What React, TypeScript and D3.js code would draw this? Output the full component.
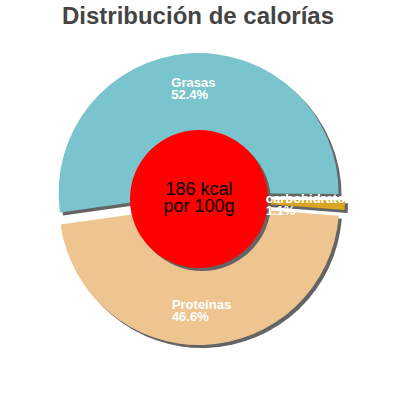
import * as d3 from "d3";

const WIDTH = 400;
const HEIGHT = 400;

const title = "Distribución de calorías";
const categories = ["Grasas", "carbohidratos", "Proteínas"];
const shares = [52.4, 1.1, 46.6];
const colors = ["#7AC5CD", "#DAA520", "#EEC591"];
const centerLines = ["186 kcal", "por 100g"];

const CX = 199;
const CY = 199;
const R = 140;
const EXPLODE = 6;
const HOLE = 69;
const SHADOW = "#646464";

type Slice = { label: string; value: number; color: string };
const slices: Slice[] = categories.map((label, i) => ({
  label,
  value: shares[i],
  color: colors[i],
}));

const start = (-98 * Math.PI) / 180;
const pie = d3
  .pie<Slice>()
  .sort(null)
  .value((d) => d.value)
  .startAngle(start)
  .endAngle(start + 2 * Math.PI);
const arcs = pie(slices);
const arc = d3.arc<d3.PieArcDatum<Slice>>().innerRadius(0).outerRadius(R);

const shift = (d: d3.PieArcDatum<Slice>) => {
  const a = (d.startAngle + d.endAngle) / 2;
  return [Math.sin(a) * EXPLODE, -Math.cos(a) * EXPLODE];
};

// rough text width for the left-aligned two-line labels
const measure = (s: string) => s.length * 6.8;

export default function App() {
  const font = "'Liberation Sans', Arial, sans-serif";
  return (
    <svg
      width={WIDTH}
      height={HEIGHT}
      style={{ position: "absolute", left: 0, top: 0, background: "#fff" }}
    >
      <text
        x={198}
        y={24}
        textAnchor="middle"
        fontFamily={font}
        fontWeight="bold"
        fontSize={24}
        fill="#444"
      >
        {title}
      </text>
      <g transform={`translate(${CX},${CY})`}>
        {arcs.map((d, i) => {
          const [dx, dy] = shift(d);
          return (
            <path
              key={"s" + i}
              d={arc(d) ?? ""}
              transform={`translate(${dx + 3},${dy + 3})`}
              fill={SHADOW}
            />
          );
        })}
        {arcs.map((d, i) => {
          const [dx, dy] = shift(d);
          return (
            <path
              key={"p" + i}
              d={arc(d) ?? ""}
              transform={`translate(${dx},${dy})`}
              fill={d.data.color}
            />
          );
        })}
        <circle cx={3} cy={3} r={HOLE} fill={SHADOW} />
        <circle cx={0} cy={0} r={HOLE} fill="#ff0000" />
        <text textAnchor="middle" fontFamily={font} fontSize={18} fill="#000">
          <tspan x={0} y={-4}>
            {centerLines[0]}
          </tspan>
          <tspan x={0} y={13}>
            {centerLines[1]}
          </tspan>
        </text>
        {arcs.map((d, i) => {
          const [dx, dy] = shift(d);
          const a = (d.startAngle + d.endAngle) / 2;
          const lx = dx + Math.sin(a) * R * 0.75;
          const ly = dy - Math.cos(a) * R * 0.75;
          const pct = d.data.value.toFixed(1) + "%";
          const width = measure(d.data.label);
          return (
            <g key={"l" + i} fontFamily={font} fontWeight="bold" fontSize={13} fill="#fff">
              <text x={lx - width / 2} y={ly - 1}>
                {d.data.label}
              </text>
              <text x={lx - width / 2} y={ly + 11}>
                {pct}
              </text>
            </g>
          );
        })}
      </g>
    </svg>
  );
}
